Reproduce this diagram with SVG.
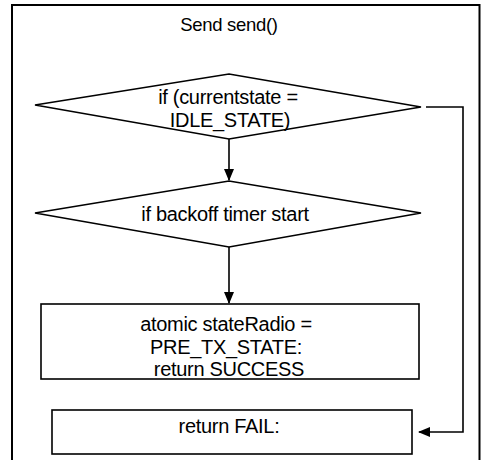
<svg xmlns="http://www.w3.org/2000/svg" width="481" height="460" viewBox="0 0 481 460">
<style>
.t{font-family:"Liberation Sans",Arial,sans-serif;font-size:20px;letter-spacing:-0.3px;fill:#000;text-anchor:middle}
.s{fill:#fff;stroke:#000;stroke-width:1.6}
.c{fill:none;stroke:#000;stroke-width:1.6}
</style>
<defs>
<marker id="ah" markerWidth="12" markerHeight="12" refX="11" refY="5" orient="auto" markerUnits="userSpaceOnUse" viewBox="0 0 12 10">
<path d="M0,0 L12,5 L0,10 Z" fill="#000"/>
</marker>
</defs>
<rect width="481" height="460" fill="#fff"/>
<g id="frame">
<path d="M12,460 V5 H479.5 V460" fill="none" stroke="#000" stroke-width="2"/>
<text class="t" x="229" y="31" style="font-size:18.5px">Send send()</text>
</g>
<g id="connectors">
<path class="c" d="M229,139 V180" marker-end="url(#ah)"/>
<path class="c" d="M229,247 V303" marker-end="url(#ah)"/>
<path class="c" d="M426,107 H463 V432 H419" marker-end="url(#ah)"/>
</g>
<g id="decision1">
<polygon class="s" points="35,105 229,74 421,107 229,139"/>
<text class="t" x="228" y="104">if (currentstate =</text>
<text class="t" x="230" y="127">IDLE_STATE)</text>
</g>
<g id="decision2">
<polygon class="s" points="35,213 229,181 421,213 229,247"/>
<text class="t" x="225" y="221">if backoff timer start</text>
</g>
<g id="success">
<rect class="s" x="41" y="304" width="378" height="75"/>
<text class="t" x="226" y="331">atomic stateRadio =</text>
<text class="t" x="226" y="354">PRE_TX_STATE:</text>
<text class="t" x="229" y="376">return SUCCESS</text>
</g>
<g id="fail">
<rect class="s" x="52" y="410" width="360" height="44"/>
<text class="t" x="229" y="433">return FAIL:</text>
</g>
</svg>
